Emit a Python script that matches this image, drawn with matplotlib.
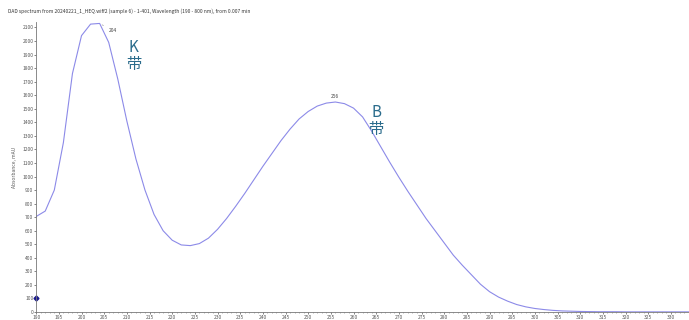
import matplotlib.pyplot as plt
from matplotlib.ticker import MultipleLocator

plt.rcParams['font.family'] = ['Noto Sans CJK SC', 'DejaVu Sans']

# DAD 光谱数据 (nm, mAU)
wavelength = list(range(190, 336, 2))
absorbance = [705, 745, 900, 1250, 1760, 2040, 2125, 2130, 1990, 1720,
              1410, 1130, 900, 720, 600, 530, 495, 490, 505, 545,
              610, 690, 780, 875, 975, 1075, 1170, 1265, 1350, 1425,
              1480, 1520, 1542, 1550, 1538, 1505, 1440, 1335, 1220, 1105,
              995, 890, 790, 690, 600, 510, 420, 345, 275, 205,
              150, 110, 80, 55, 38, 26, 18, 12, 8, 6,
              4, 3, 2, 2, 2, 1, 1, 1, 1, 1,
              1, 1, 1]
peak_wl = [204, 256]
peak_abs = [2130, 1550]
band_names = ['K\n带', 'B\n带']
band_pos = [(211.5, 1890), (265, 1410)]

title = ('DAD spectrum from 20240221_1_HEQ.wiff2 (sample 6) - 1-401, '
         'Wavelength (190 - 800 nm), from 0.007 min')

fig = plt.figure(figsize=(6.89, 3.2), dpi=100)
ax = fig.add_axes([0.0525, 0.025, 0.9475, 0.906])

ax.plot(wavelength, absorbance, color='#8c8ae8', lw=0.8)
ax.plot([190], [105], marker='D', ms=2.5, color='#1a1a8c', clip_on=False)

# 峰值标注
ax.annotate(str(peak_wl[0]), xy=(peak_wl[0], peak_abs[0]), xytext=(206, 2065),
            fontsize=3.5, color='#444444',
            arrowprops=dict(arrowstyle='-', color='#888888', lw=0.4))
ax.text(peak_wl[1], peak_abs[1] + 25, str(peak_wl[1]), fontsize=3.5,
        color='#444444', ha='center', va='bottom')

for name, (bx, by) in zip(band_names, band_pos):
    ax.text(bx, by, name, fontsize=11, color='#2b6c8c', ha='center',
            va='center', linespacing=1.0)

ax.set_xlim(190, 334)
ax.set_ylim(0, 2140)
ax.xaxis.set_major_locator(MultipleLocator(5))
ax.xaxis.set_minor_locator(MultipleLocator(1))
ax.yaxis.set_major_locator(MultipleLocator(100))
ax.tick_params(axis='both', labelsize=3.5, colors='#555555', length=1.5,
               width=0.5, pad=0.5)
ax.tick_params(axis='x', which='minor', length=1, width=0.4, colors='#777777')
for s in ['top', 'right']:
    ax.spines[s].set_visible(False)
for s in ['left', 'bottom']:
    ax.spines[s].set_color('#777777')
    ax.spines[s].set_linewidth(0.6)

ax.set_ylabel('Absorbance, mAU', fontsize=3.5, color='#555555', labelpad=4)
fig.text(0.012, 0.965, title, fontsize=3.5, color='#333333', va='center')

fig.savefig('out.png', dpi=100)
